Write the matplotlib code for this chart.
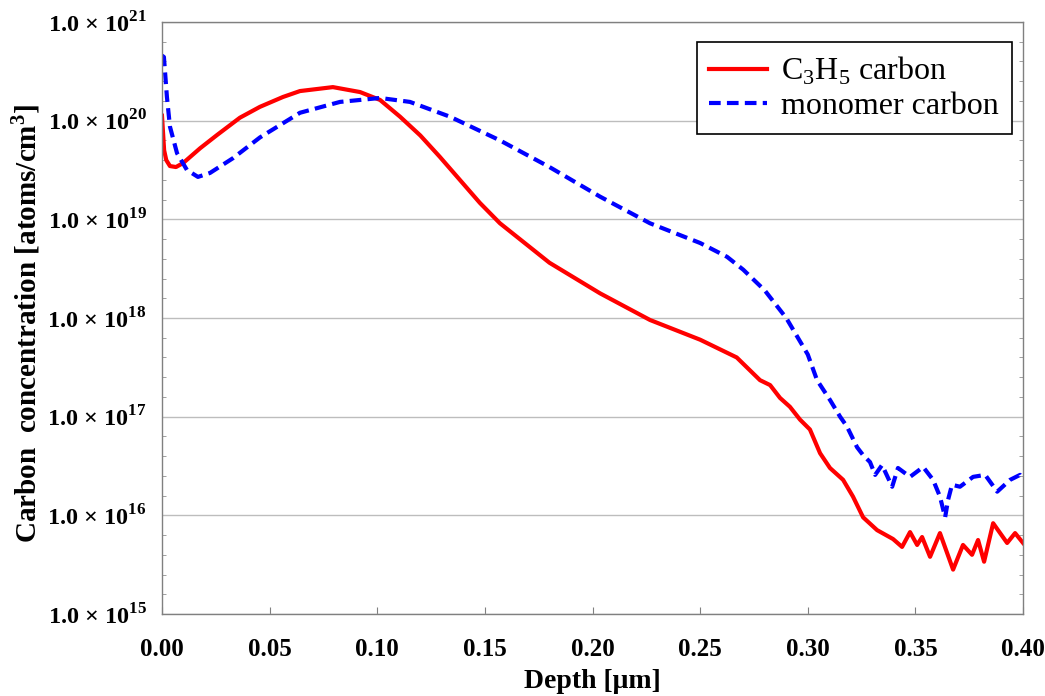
import matplotlib
matplotlib.use('Agg')
import matplotlib.pyplot as plt
import matplotlib.ticker as ticker
import numpy as np

plt.rcParams['font.family'] = ['Liberation Serif', 'DejaVu Serif']
plt.rcParams['mathtext.fontset'] = 'custom'
plt.rcParams['mathtext.rm'] = 'Liberation Serif'
plt.rcParams['mathtext.bf'] = 'Liberation Serif:bold'

# depth in um, concentration as log10(atoms/cm3)
c3h5_depth = [0.0, 0.001, 0.002, 0.0037, 0.0065, 0.0098, 0.0177, 0.0256, 0.0362, 0.0455,
              0.0562, 0.0641, 0.0794, 0.092, 0.1013, 0.1106, 0.120, 0.129, 0.1477, 0.157,
              0.180, 0.2035, 0.2267, 0.250, 0.267, 0.2778, 0.2825, 0.2871, 0.2917, 0.2964,
              0.3010, 0.3057, 0.3103, 0.3164, 0.3210, 0.3257, 0.3322, 0.3396, 0.3438, 0.3475,
              0.3508, 0.3531, 0.3568, 0.3614, 0.3675, 0.3721, 0.3763, 0.3791, 0.3819, 0.3861,
              0.3926, 0.3963, 0.4]
c3h5_log10 = [20.05, 19.70, 19.60, 19.54, 19.53, 19.57, 19.72, 19.855, 20.03, 20.14,
              20.24, 20.30, 20.34, 20.29, 20.21, 20.04, 19.85, 19.635, 19.166, 18.96,
              18.56, 18.25, 17.98, 17.78, 17.60, 17.37, 17.32, 17.19, 17.10, 16.97,
              16.87, 16.63, 16.48, 16.36, 16.19, 15.98, 15.85, 15.76, 15.68, 15.83,
              15.70, 15.78, 15.58, 15.82, 15.45, 15.70, 15.60, 15.75, 15.53, 15.92,
              15.72, 15.82, 15.72]

mono_depth = [0.0, 0.0009, 0.0023, 0.0037, 0.007, 0.0116, 0.0167, 0.0223, 0.033, 0.0455,
              0.0641, 0.0827, 0.1013, 0.1152, 0.1338, 0.157, 0.180, 0.2035, 0.2267, 0.250,
              0.2625, 0.270, 0.280, 0.290, 0.300, 0.3043, 0.3103, 0.315, 0.3182, 0.3229,
              0.3257, 0.3289, 0.3313, 0.3345, 0.3392, 0.3419, 0.3475, 0.3536, 0.3582, 0.3614,
              0.3638, 0.3652, 0.367, 0.3707, 0.3768, 0.3824, 0.3880, 0.394, 0.3986, 0.4]
mono_log10 = [20.66, 20.645, 20.24, 19.94, 19.67, 19.50, 19.43, 19.47, 19.62, 19.83,
              20.08, 20.19, 20.23, 20.19, 20.04, 19.80, 19.53, 19.23, 18.96, 18.76,
              18.62, 18.49, 18.28, 18.00, 17.63, 17.37, 17.17, 17.00, 16.90, 16.69,
              16.61, 16.54, 16.41, 16.51, 16.29, 16.48, 16.39, 16.49, 16.36, 16.19,
              15.98, 16.16, 16.31, 16.29, 16.39, 16.41, 16.24, 16.36, 16.41, 16.36]

x_ticks = [0.0, 0.05, 0.10, 0.15, 0.20, 0.25, 0.30, 0.35, 0.40]
y_exponents = [15, 16, 17, 18, 19, 20, 21]

fig = plt.figure(figsize=(10.45, 6.96), dpi=100)
ax = fig.add_axes([0.155, 0.1178, 0.824, 0.8506])

ax.plot(c3h5_depth, 10.0 ** np.array(c3h5_log10), color='#ff0000', lw=3,
        label='C$_{3}$H$_{5}$ carbon')
ax.plot(mono_depth, 10.0 ** np.array(mono_log10), color='#0000ff', lw=3,
        linestyle=(0, (2.8, 1.5)), label='monomer carbon')

ax.set_yscale('log')
ax.set_xlim(0, 0.4)
ax.set_ylim(1e15, 1e21)

ax.set_xticks(x_ticks)
ax.xaxis.set_major_formatter(ticker.FormatStrFormatter('%.2f'))
ax.set_yticks([10.0 ** e for e in y_exponents])
ax.yaxis.set_major_formatter(ticker.FuncFormatter(
    lambda v, pos: '1.0 \u00d7 10$^{\\mathbf{%d}}$' % round(np.log10(v))))
ax.yaxis.set_minor_locator(ticker.FixedLocator(10.0 ** np.arange(15, 21.01, 0.2)))
ax.yaxis.set_minor_formatter(ticker.NullFormatter())

for lab in ax.get_xticklabels() + ax.get_yticklabels():
    lab.set_fontweight('bold')
ax.tick_params(axis='x', direction='in', length=5, width=0.8, color='#808080',
               labelsize=18, pad=17)
ax.tick_params(axis='y', which='major', length=0, labelsize=17.5, pad=11)
ax.tick_params(axis='y', which='minor', direction='in', length=3, width=0.6,
               color='#909090', left=True, right=True)

ax.grid(axis='y', which='major', color='#bdbdbd', lw=1)
ax.grid(axis='x', visible=False)
for s in ax.spines.values():
    s.set_color('#808080')
    s.set_linewidth(1)

ax.set_xlabel('Depth [\u03bcm]', fontsize=20, fontweight='bold', labelpad=6)
ax.set_ylabel('Carbon  concentration [atoms/cm$^{\\mathbf{3}}$]', fontsize=21,
              fontweight='bold')
ax.yaxis.set_label_coords(-0.139, 0.49)

leg = ax.legend(loc='upper right', bbox_to_anchor=(0.987, 0.966), fontsize=23,
                frameon=True, fancybox=False, framealpha=1, edgecolor='black',
                handlelength=1.8, handletextpad=0.45, borderpad=0.4,
                labelspacing=0.15, borderaxespad=0)
leg.get_frame().set_linewidth(1.2)

fig.savefig('out.png', dpi=100)
